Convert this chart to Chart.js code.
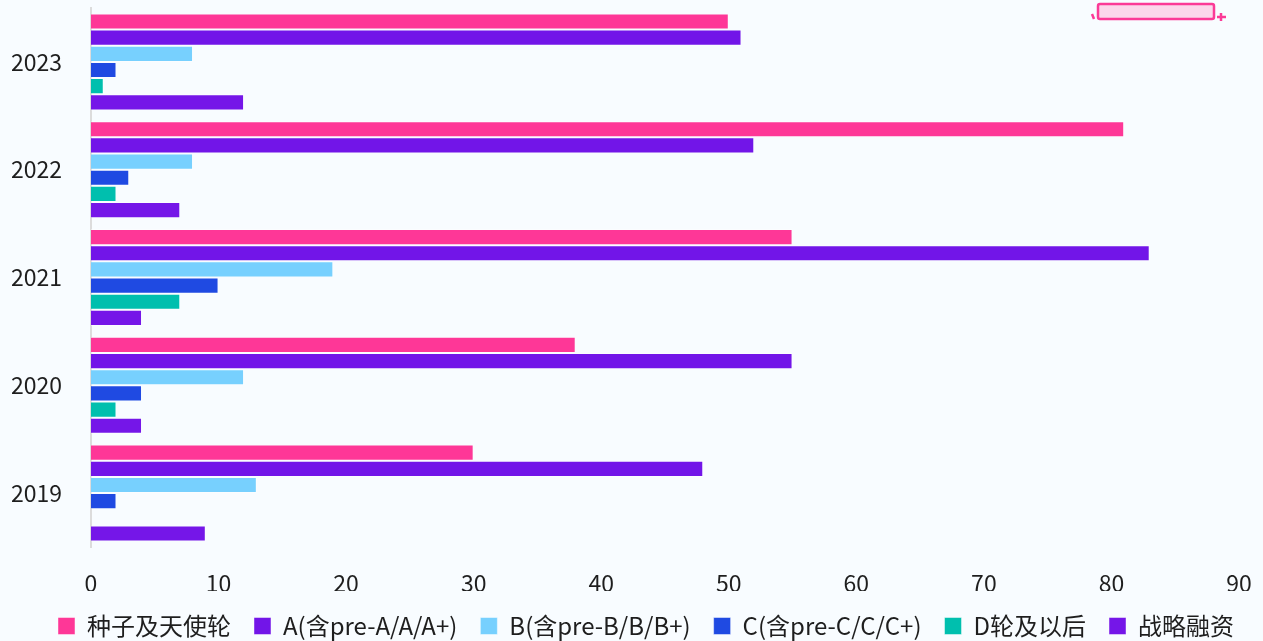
<!DOCTYPE html>
<html>
<head>
<meta charset="utf-8">
<script src="https://cdn.jsdelivr.net/npm/chart.js@4.4.1/dist/chart.umd.min.js"></script>
<style>
  html, body { margin: 0; padding: 0; background: #f8fcff; overflow: hidden; }
  #wrap { width: 1263px; height: 648px; }
</style>
</head>
<body>
<div id="wrap"><canvas id="chart"></canvas></div>
<script>
// years top to bottom
const years = ["2023", "2022", "2021", "2020", "2019"];
const seriesNames = ["种子及天使轮", "A(含pre-A/A/A+)", "B(含pre-B/B/B+)", "C(含pre-C/C/C+)", "D轮及以后", "战略融资"];
const seriesColors = ["#fe3797", "#7215e8", "#77d0fe", "#1f4ae2", "#00bfae", "#7516e8"];

const seedAngel = [50, 81, 55, 38, 30];
const roundA = [51, 52, 83, 55, 48];
const roundB = [8, 8, 19, 12, 13];
const roundC = [2, 3, 10, 4, 2];
const roundD = [1, 2, 7, 2, 0];
const strategic = [12, 7, 4, 4, 9];

const xTicks = [0, 10, 20, 30, 40, 50, 60, 70, 80, 90];

const font = "'Noto Sans CJK SC', 'Noto Sans', sans-serif";

const seriesValues = [seedAngel, roundA, roundB, roundC, roundD, strategic];

// little pink highlight doodle in the top right corner
const doodle = {
  id: "doodle",
  afterDraw(chart) {
    const ctx = chart.ctx;
    ctx.save();
    ctx.fillStyle = "rgba(255, 170, 210, 0.45)";
    ctx.strokeStyle = "#fb3a97";
    ctx.lineWidth = 2.5;
    ctx.beginPath();
    ctx.roundRect(1098, 4, 116, 15, 2);
    ctx.fill();
    ctx.stroke();
    ctx.beginPath();
    ctx.moveTo(1092, 14);
    ctx.lineTo(1094, 19);
    ctx.moveTo(1217, 17);
    ctx.lineTo(1226, 17);
    ctx.moveTo(1221, 13);
    ctx.lineTo(1221, 21);
    ctx.stroke();
    ctx.restore();
  }
};

// legend sits a bit right of the chart centre in the original
const legendNudge = {
  id: "legendNudge",
  afterLayout(chart) {
    chart.legend.left += 21;
    chart.legend.right += 21;
  }
};

new Chart(document.getElementById("chart"), {
  type: "bar",
  data: {
    labels: years,
    datasets: seriesNames.map((name, i) => ({
      label: name,
      data: seriesValues[i],
      backgroundColor: seriesColors[i],
      borderColor: "rgba(255, 255, 255, 0.45)",
      borderWidth: 1,
      categoryPercentage: 0.9,
      barPercentage: 1.0,
    })),
  },
  options: {
    indexAxis: "y",
    responsive: true,
    maintainAspectRatio: false,
    animation: false,
    layout: { padding: { left: 11, right: 24, top: 8, bottom: 0 } },
    scales: {
      x: {
        min: 0,
        max: 90,
        afterBuildTicks: (axis) => {
          axis.ticks = xTicks.map((v) => ({ value: v }));
        },
        afterFit: (axis) => {
          axis.height = 44;
          axis.paddingLeft = 0;
          axis.paddingRight = 0;
        },
        grid: { display: false },
        border: { display: false },
        ticks: { color: "#1e1e1e", padding: 14, font: { family: font, size: 23 } },
      },
      y: {
        afterFit: (axis) => {
          axis.width = 80;
          axis.paddingTop = 0;
          axis.paddingBottom = 0;
        },
        grid: { display: false },
        border: { display: true, color: "#dcdcdc", width: 2 },
        ticks: { color: "#1e1e1e", crossAlign: "far", font: { family: font, size: 23 } },
      },
    },
    plugins: {
      legend: {
        position: "bottom",
        labels: {
          boxWidth: 17,
          boxHeight: 17,
          padding: 23,
          color: "#1e1e1e",
          font: { family: font, size: 24 },
        },
      },
      tooltip: { enabled: false },
    },
  },
  plugins: [doodle, legendNudge],
});
</script>
</body>
</html>
